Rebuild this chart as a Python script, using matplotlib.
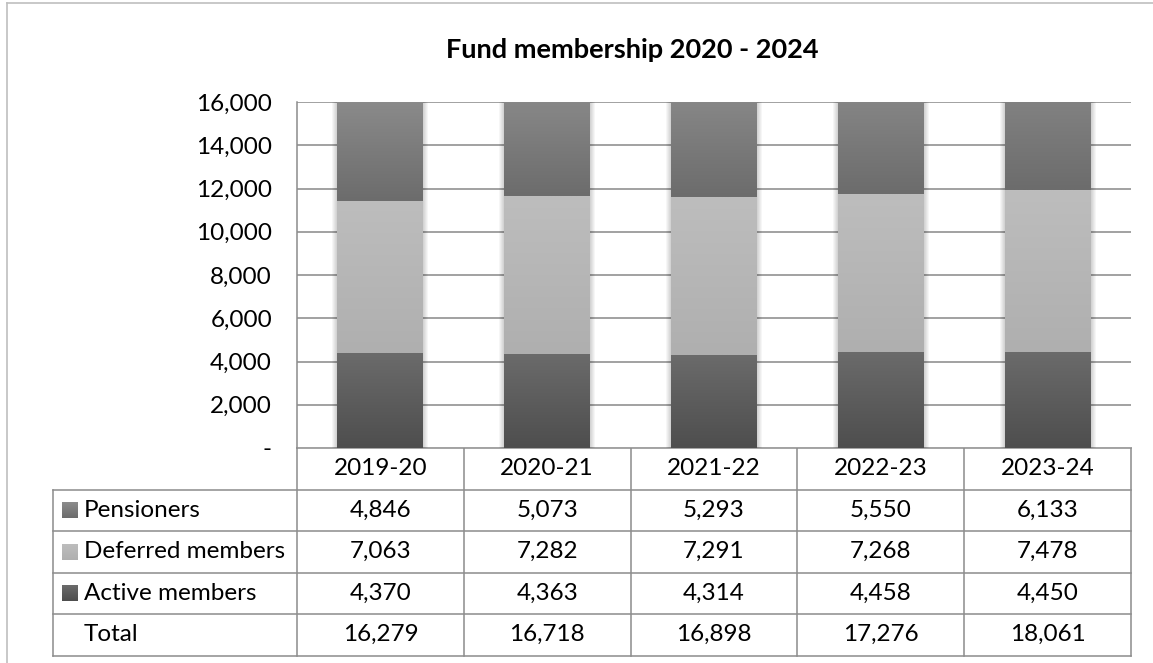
import numpy as np
import matplotlib.pyplot as plt
from matplotlib.colors import LinearSegmentedColormap
from matplotlib.patches import Rectangle
from matplotlib.ticker import FuncFormatter, MultipleLocator

# membership counts per scheme year
years = ['2019-20', '2020-21', '2021-22', '2022-23', '2023-24']
active = [4370, 4363, 4314, 4458, 4450]
deferred = [7063, 7282, 7291, 7268, 7478]
pensioners = [4846, 5073, 5293, 5550, 6133]
totals = [16279, 16718, 16898, 17276, 18061]

# stacking order bottom -> top, with top/bottom gradient shades
stack = [
    ('Active members', active, ('#6b6b6b', '#4e4e4e')),
    ('Deferred members', deferred, ('#bdbdbd', '#afafaf')),
    ('Pensioners', pensioners, ('#8c8c8c', '#6c6c6c')),
]
table_rows = ['Pensioners', 'Deferred members', 'Active members']

plt.rcParams['font.family'] = ['Lato', 'DejaVu Sans']
W, H = 1153, 663
fig = plt.figure(figsize=(W / 100, H / 100), dpi=100)

# plot area in pixel terms
x0, x1, y_top, y_bot = 297, 1131, 102, 448
ax = fig.add_axes([x0 / W, 1 - y_bot / H, (x1 - x0) / W, (y_bot - y_top) / H])

grad = np.linspace(0, 1, 128).reshape(-1, 1)
xpos = np.arange(len(years))
bw = 0.515
px = 1 / ((x1 - x0) / len(years))  # one pixel in data units

# soft side shadow behind each column
for x in xpos:
    for k in range(1, 6):
        ax.add_patch(Rectangle((x - bw / 2 - k * px, -400), bw + 2 * k * px, 20000,
                               facecolor='black', alpha=0.035, lw=0, zorder=1))

bottom = np.zeros(len(years))
for name, vals, (c_top, c_bot) in stack:
    cmap = LinearSegmentedColormap.from_list(name, [c_top, c_bot])
    bars = ax.bar(xpos, vals, bw, bottom=bottom, facecolor='none', edgecolor='none', zorder=3)
    for rect in bars:
        bx, by = rect.get_x(), rect.get_y()
        ax.imshow(grad, extent=(bx, bx + rect.get_width(), by, by + rect.get_height()),
                  cmap=cmap, aspect='auto', zorder=2, interpolation='bilinear')
    bottom += np.array(vals)

ax.set_xlim(-0.5, len(years) - 0.5)
ax.set_ylim(0, 16000)
ax.yaxis.set_major_locator(MultipleLocator(2000))
ax.yaxis.set_major_formatter(FuncFormatter(lambda v, p: '-' if v == 0 else f'{v:,.0f}'))
ax.set_xticks([])
fs = 17.5
ax.tick_params(axis='y', length=0, pad=18, labelsize=fs, labelcolor='black')
ax.grid(axis='y', color='#878787', lw=1.1, zorder=0)
ax.set_axisbelow(True)
for s in ['top', 'right', 'bottom']:
    ax.spines[s].set_visible(False)
ax.spines['left'].set_color('#8c8c8c')
ax.spines['left'].set_linewidth(1.1)

# data table underneath, drawn in pixel coordinates
tab = fig.add_axes([0, 0, 1, 1], zorder=-1)
tab.set_xlim(0, W)
tab.set_ylim(H, 0)
tab.axis('off')

line_c = '#8c8c8c'
col_edges = np.linspace(x0, x1, len(years) + 1)
row_h = 41.5
header_bot = y_bot + row_h
rows_y = [header_bot + i * row_h for i in range(5)]
tab_left = 53

tab.plot([x0, x1], [y_bot, y_bot], color=line_c, lw=1.1)
for y in rows_y:
    tab.plot([tab_left, x1], [y, y], color=line_c, lw=1.1)
for xe in col_edges:
    tab.plot([xe, xe], [y_bot, rows_y[-1]], color=line_c, lw=1.1)
tab.plot([tab_left, tab_left], [header_bot, rows_y[-1]], color=line_c, lw=1.1)

for i, yr in enumerate(years):
    cx = (col_edges[i] + col_edges[i + 1]) / 2
    tab.text(cx, (y_bot + header_bot) / 2, yr, ha='center', va='center', fontsize=fs, color='black')

series = {name: (vals, cols) for name, vals, cols in stack}
for r, name in enumerate(table_rows):
    vals, (c_top, c_bot) = series[name]
    ymid = (rows_y[r] + rows_y[r + 1]) / 2
    cmap = LinearSegmentedColormap.from_list(name + '_key', [c_top, c_bot])
    tab.imshow(grad, extent=(62, 78, ymid + 8, ymid - 8), cmap=cmap, aspect='auto')
    tab.text(84, ymid, name, ha='left', va='center', fontsize=fs, color='black')
    for i, v in enumerate(vals):
        cx = (col_edges[i] + col_edges[i + 1]) / 2
        tab.text(cx, ymid, f'{v:,}', ha='center', va='center', fontsize=fs, color='black')

ymid = (rows_y[3] + rows_y[4]) / 2
tab.text(84, ymid, 'Total', ha='left', va='center', fontsize=fs, color='black')
for i, v in enumerate(totals):
    cx = (col_edges[i] + col_edges[i + 1]) / 2
    tab.text(cx, ymid, f'{v:,}', ha='center', va='center', fontsize=fs, color='black')

# chart frame
tab.plot([7, 7], [3, H], color='#bfbfbf', lw=1.2)
tab.plot([7, W], [3, 3], color='#bfbfbf', lw=1.2)
tab.set_xlim(0, W)
tab.set_ylim(H, 0)

fig.text(632 / W, 1 - 50 / H, 'Fund membership 2020 - 2024', ha='center', va='center',
         fontsize=19.5, fontweight='bold', color='black')

fig.savefig('out.png', dpi=100)
